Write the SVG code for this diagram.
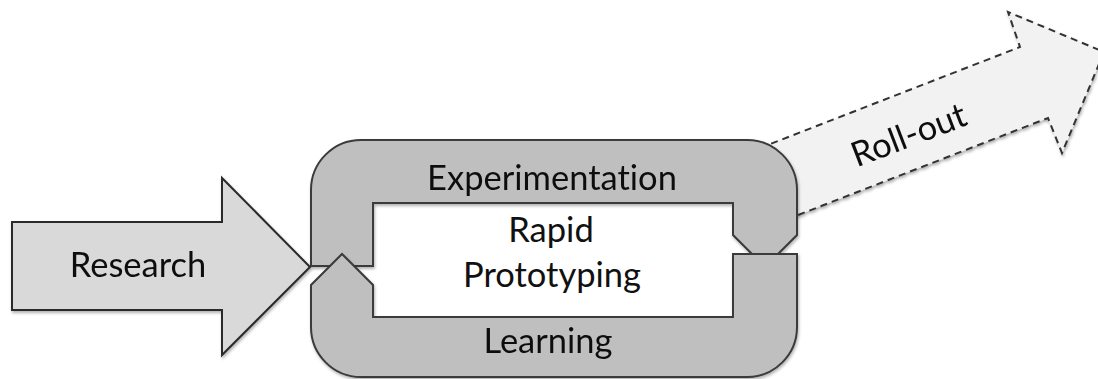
<svg xmlns="http://www.w3.org/2000/svg" width="1098" height="379" viewBox="0 0 1098 379">
<defs>
<filter id="sh" x="-10%" y="-10%" width="120%" height="130%">
<feDropShadow dx="1" dy="2" stdDeviation="1.5" flood-color="#000" flood-opacity="0.3"/>
</filter>
<style>
.lbl{font-family:Lato,"Liberation Sans",sans-serif;font-size:34.5px;fill:#111;text-anchor:middle;font-variant-ligatures:none}
.loop{fill:#bfbfbf;stroke:#3a3a3a;stroke-width:2;stroke-linejoin:miter}
</style>
</defs>
<rect width="1098" height="379" fill="#fff"/>
<g id="connectors">
<g id="rollout" filter="url(#sh)">
<path d="M760,148 L1020,47 L1008,12 L1104,52 L1062,153 L1048,118 L780,222 Z" fill="#f2f2f2" stroke="#333" stroke-width="2" stroke-dasharray="7,5"/>
<text class="lbl" transform="translate(913,146) rotate(-21)">Roll-out</text>
</g>
<g id="research" filter="url(#sh)">
<path d="M12,222 L222,222 L222,178 L310,267 L222,355 L222,310 L12,310 Z" fill="#d9d9d9" stroke="#2a2a2a" stroke-width="2"/>
<text class="lbl" x="138" y="277">Research</text>
</g>
</g>
<g id="experimentation" filter="url(#sh)">
<path class="loop" d="M311,266 L311,190 A50,50 0 0 1 361,140 L747,140 A50,50 0 0 1 797,190 L797,235 L765,267 L733,235 L733,203 L373,203 L373,266 Z"/>
<text class="lbl" x="552" y="190">Experimentation</text>
</g>
<g id="learning" filter="url(#sh)">
<path class="loop" d="M311,285 L342,254 L373,285 L373,317 L733,317 L733,254 L797,254 L797,327 A50,50 0 0 1 747,377 L361,377 A50,50 0 0 1 311,327 Z"/>
<text class="lbl" x="548" y="353">Learning</text>
</g>
<g id="prototyping">
<text class="lbl" x="551" y="242">Rapid</text>
<text class="lbl" x="552" y="287">Prototyping</text>
</g>
</svg>
